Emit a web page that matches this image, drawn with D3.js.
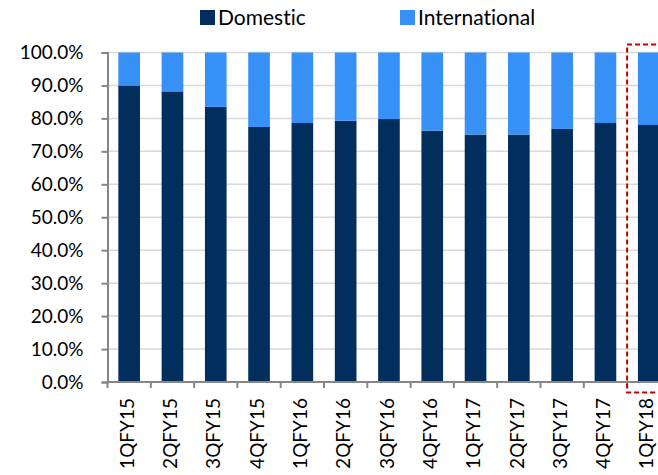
<!DOCTYPE html>
<html><head><meta charset="utf-8">
<script src="https://cdn.jsdelivr.net/npm/d3@7"></script>
<style>body{margin:0;background:#fff}svg{display:block}text{font-variant-ligatures:none;font-feature-settings:"liga" 0}</style>
</head><body><svg id="c" width="658" height="475"></svg>
<script>
const categories = ["1QFY15","2QFY15","3QFY15","4QFY15","1QFY16","2QFY16","3QFY16","4QFY16","1QFY17","2QFY17","3QFY17","4QFY17","1QFY18"];
const domestic = [90.0,88.2,83.5,77.4,78.6,79.3,79.8,76.3,75.1,75.1,76.8,78.6,78.0];
const international = domestic.map(d => +(100 - d).toFixed(1));
const yTicks = [0,10,20,30,40,50,60,70,80,90,100];
const seriesNames = ["Domestic","International"];
const colors = ["#022E5E","#3790F6"];

const svg = d3.select("#c");
const font = "Lato, 'Open Sans', sans-serif";
const x0 = 107.5, x1 = 107.5 + 13*43.3;
const x = d3.scaleBand().domain(categories).range([x0, x1]).paddingInner(0.5).paddingOuter(0.25);
const y = d3.scaleLinear().domain([0,100]).range([382, 52.5]);

// gridlines
svg.append("g").selectAll("line").data(yTicks.filter(t=>t>0)).join("line")
  .attr("x1",x0).attr("x2",x1).attr("y1",d=>y(d)).attr("y2",d=>y(d))
  .attr("stroke","#D9D9D9").attr("stroke-width",1.5);

const rows = categories.map((c,i)=>({cat:c, Domestic:domestic[i], International:international[i]}));
const stack = d3.stack().keys(seriesNames)(rows);
svg.append("g").selectAll("g").data(stack).join("g").attr("fill",(d,i)=>colors[i])
  .selectAll("rect").data(d=>d).join("rect")
  .attr("x",d=>x(d.data.cat)).attr("width",x.bandwidth())
  .attr("y",d=>y(d[1])).attr("height",d=>y(d[0])-y(d[1]));

// y axis
const ya = svg.append("g").attr("transform",`translate(${x0},0)`)
  .call(d3.axisLeft(y).tickValues(yTicks).tickFormat(d=>d.toFixed(1)+"%").tickSize(6).tickPadding(18));
ya.select(".domain").attr("stroke","#868686").attr("stroke-width",2);
ya.selectAll(".tick line").attr("stroke","#868686").attr("stroke-width",2);
ya.selectAll("text").attr("font-family",font).attr("font-size",19).attr("fill","#000");

// x axis
const xa = svg.append("g").attr("transform","translate(0,382)")
  .call(d3.axisBottom(x).tickSize(0).tickPadding(0));
xa.select(".domain").remove();
svg.append("line").attr("x1",x0).attr("x2",x1).attr("y1",382).attr("y2",382).attr("stroke","#868686").attr("stroke-width",2);
const step = x.step();
svg.append("g").selectAll("line").data(d3.range(categories.length)).join("line")
  .attr("x1",i=>x0+i*step).attr("x2",i=>x0+i*step).attr("y1",382).attr("y2",388)
  .attr("stroke","#868686").attr("stroke-width",2);
xa.selectAll("text").attr("font-family",font).attr("font-size",19).attr("fill","#000")
  .attr("text-anchor","end")
  .attr("transform","translate(-2,16) rotate(-90)").attr("dy","0.35em").attr("y",0).attr("x",0);

// highlight box
const last = categories[categories.length-1];
svg.append("rect").attr("x",x0+12*step).attr("y",44.5).attr("width",60).attr("height",348)
  .attr("fill","none").attr("stroke","#C00000").attr("stroke-width",2).attr("stroke-dasharray","5,3");

// legend
const lg = svg.append("g");
const lx = [200,400];
seriesNames.forEach((n,i)=>{
  lg.append("rect").attr("x",lx[i]).attr("y",10).attr("width",15).attr("height",15).attr("fill",colors[i]);
  lg.append("text").attr("x",lx[i]+18).attr("y",17.5).attr("dy","0.35em").attr("font-family",font).attr("font-size",21).attr("fill","#000").text(n);
});
</script></body></html>
